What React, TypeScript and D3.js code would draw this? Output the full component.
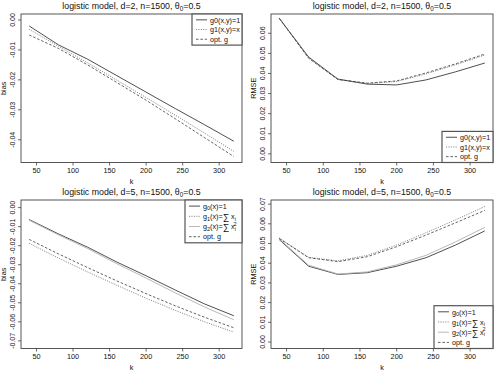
import * as d3 from "d3";
import { useEffect, useRef } from "react";

const kValues = [40, 80, 120, 160, 200, 240, 280, 320];
const xTicks = [50, 100, 150, 200, 250, 300];

// d=2, bias
const bias2G0 = [-0.002, -0.0083, -0.0131, -0.0186, -0.0241, -0.0296, -0.035, -0.0405];
const bias2G1 = [-0.0031, -0.0088, -0.0143, -0.0201, -0.0259, -0.0318, -0.0378, -0.0439];
const bias2Opt = [-0.005, -0.0095, -0.015, -0.0209, -0.0268, -0.033, -0.0393, -0.0456];

// d=2, RMSE
const rmse2G0 = [0.0675, 0.0482, 0.0372, 0.0347, 0.0343, 0.0368, 0.0408, 0.0452];
const rmse2G1 = [0.0675, 0.0478, 0.037, 0.035, 0.036, 0.0398, 0.0443, 0.0492];
const rmse2Opt = [0.0675, 0.0476, 0.037, 0.0352, 0.0363, 0.0403, 0.0448, 0.0497];

// d=5, bias
const bias5G0 = [-0.0063, -0.0138, -0.0208, -0.0286, -0.0358, -0.0433, -0.0506, -0.0568];
const bias5G1 = [-0.0188, -0.0265, -0.0338, -0.0408, -0.0476, -0.054, -0.06, -0.0654];
const bias5G2 = [-0.0066, -0.0143, -0.0215, -0.0295, -0.037, -0.0448, -0.0522, -0.0589];
const bias5Opt = [-0.0167, -0.0243, -0.0315, -0.0385, -0.0452, -0.0516, -0.0576, -0.0631];

// d=5, RMSE
const rmse5G0 = [0.052, 0.0385, 0.0343, 0.0352, 0.0385, 0.0428, 0.0492, 0.0564];
const rmse5G1 = [0.0528, 0.043, 0.0412, 0.044, 0.0492, 0.0555, 0.062, 0.0688];
const rmse5G2 = [0.0524, 0.039, 0.0345, 0.0356, 0.0392, 0.044, 0.0508, 0.0582];
const rmse5Opt = [0.0526, 0.0428, 0.0408, 0.0433, 0.0484, 0.0543, 0.0605, 0.0668];

const biasTicks2 = [0, -0.01, -0.02, -0.03, -0.04];
const rmseTicks2 = [0, 0.01, 0.02, 0.03, 0.04, 0.05, 0.06];
const biasTicks5 = [0, -0.01, -0.02, -0.03, -0.04, -0.05, -0.06, -0.07];
const rmseTicks5 = [0, 0.01, 0.02, 0.03, 0.04, 0.05, 0.06, 0.07];

const FONT = "Liberation Sans, Arial, Helvetica, sans-serif";

const styles = {
  g0: { color: "#222", dash: null, width: 0.8 },
  g1: { color: "#777", dash: "1.1,1.3", width: 0.9 },
  g2: { color: "#b0b0b0", dash: null, width: 0.9 },
  opt: { color: "#333", dash: "2.6,1.8", width: 0.75 },
};

const App = () => {
  const ref = useRef(null);

  useEffect(() => {
    const svg = d3.select(ref.current);
    svg.selectAll("*").remove();

    const panels = [
      {
        x0: 21, x1: 242, y0: 14, y1: 162.5, d: 2, ylab: "bias",
        domain: [-0.0476, 0.002], ticks: biasTicks2,
        series: [
          { key: "g0", vals: bias2G0 },
          { key: "g1", vals: bias2G1 },
          { key: "opt", vals: bias2Opt },
        ],
        legend: { corner: "top", w: 50, labels: ["g0(x,y)=1", "g1(x,y)=x", "opt. g"], keys: ["g0", "g1", "opt"] },
      },
      {
        x0: 271, x1: 493, y0: 14, y1: 162.5, d: 2, ylab: "RMSE",
        domain: [-0.0043, 0.0696], ticks: rmseTicks2,
        series: [
          { key: "g0", vals: rmse2G0 },
          { key: "g1", vals: rmse2G1 },
          { key: "opt", vals: rmse2Opt },
        ],
        legend: { corner: "bottom", w: 51, labels: ["g0(x,y)=1", "g1(x,y)=x", "opt. g"], keys: ["g0", "g1", "opt"] },
      },
      {
        x0: 21, x1: 242, y0: 200, y1: 348.5, d: 5, ylab: "bias",
        domain: [-0.074, 0.004], ticks: biasTicks5,
        series: [
          { key: "g0", vals: bias5G0 },
          { key: "g1", vals: bias5G1 },
          { key: "g2", vals: bias5G2 },
          { key: "opt", vals: bias5Opt },
        ],
        legend: { corner: "top", w: 57, labels: null, keys: ["g0", "g1", "g2", "opt"] },
      },
      {
        x0: 271, x1: 493, y0: 200, y1: 348.5, d: 5, ylab: "RMSE",
        domain: [-0.0033, 0.0721], ticks: rmseTicks5,
        series: [
          { key: "g0", vals: rmse5G0 },
          { key: "g1", vals: rmse5G1 },
          { key: "g2", vals: rmse5G2 },
          { key: "opt", vals: rmse5Opt },
        ],
        legend: { corner: "bottom", w: 59, labels: null, keys: ["g0", "g1", "g2", "opt"] },
      },
    ];

    panels.forEach((p) => {
      const g = svg.append("g");
      const x = d3.scaleLinear().domain([28.8, 331.2]).range([p.x0, p.x1]);
      const y = d3.scaleLinear().domain(p.domain).range([p.y1, p.y0]);

      // title
      const title = g
        .append("text")
        .attr("x", (p.x0 + p.x1) / 2)
        .attr("y", p.y0 - 5)
        .attr("text-anchor", "middle")
        .attr("font-size", 8.8)
        .attr("font-family", FONT)
        .attr("fill", "#111");
      title.append("tspan").text(`logistic model, d=${p.d}, n=1500, θ`);
      title.append("tspan").attr("font-size", 6.3).attr("dy", 2).text("0");
      title.append("tspan").attr("dy", -2).text("=0.5");

      // lines
      const line = d3
        .line()
        .x((d) => x(d[0]))
        .y((d) => y(d[1]));
      p.series.forEach((s) => {
        const st = styles[s.key];
        g.append("path")
          .datum(kValues.map((k, i) => [k, s.vals[i]]))
          .attr("d", line)
          .attr("fill", "none")
          .attr("stroke", st.color)
          .attr("stroke-width", st.width)
          .attr("stroke-dasharray", st.dash);
      });

      // box
      g.append("rect")
        .attr("x", p.x0)
        .attr("y", p.y0)
        .attr("width", p.x1 - p.x0)
        .attr("height", p.y1 - p.y0)
        .attr("fill", "none")
        .attr("stroke", "#444")
        .attr("stroke-width", 0.9);

      // x axis
      xTicks.forEach((t) => {
        g.append("line")
          .attr("x1", x(t)).attr("x2", x(t))
          .attr("y1", p.y1).attr("y2", p.y1 + 3)
          .attr("stroke", "#444").attr("stroke-width", 0.8);
        g.append("text")
          .attr("x", x(t))
          .attr("y", p.y1 + 10.5)
          .attr("text-anchor", "middle")
          .attr("font-size", 7.3)
          .attr("font-family", FONT)
          .attr("fill", "#111")
          .text(t);
      });
      g.append("text")
        .attr("x", (p.x0 + p.x1) / 2)
        .attr("y", p.y1 + 21)
        .attr("text-anchor", "middle")
        .attr("font-size", 7.3)
        .attr("font-family", FONT)
        .attr("fill", "#111")
        .text("k");

      // y axis
      p.ticks.forEach((t) => {
        g.append("line")
          .attr("x1", p.x0 - 3).attr("x2", p.x0)
          .attr("y1", y(t)).attr("y2", y(t))
          .attr("stroke", "#444").attr("stroke-width", 0.8);
        g.append("text")
          .attr("transform", `translate(${p.x0 - 6},${y(t)}) rotate(-90)`)
          .attr("text-anchor", "middle")
          .attr("font-size", 7)
          .attr("font-family", FONT)
          .attr("fill", "#111")
          .text(d3.format(".2f")(t).replace("\u2212", "-"));
      });
      g.append("text")
        .attr("transform", `translate(${p.x0 - 15},${(p.y0 + p.y1) / 2}) rotate(-90)`)
        .attr("text-anchor", "middle")
        .attr("font-size", 7.3)
        .attr("font-family", FONT)
        .attr("fill", "#111")
        .text(p.ylab);

      // legend
      const n = p.legend.keys.length;
      const rowH = n === 3 ? 9.7 : 10.2;
      const lh = rowH * n + 2;
      const lx = p.x1 - p.legend.w;
      const ly = p.legend.corner === "top" ? p.y0 : p.y1 - lh;
      g.append("rect")
        .attr("x", lx)
        .attr("y", ly)
        .attr("width", p.legend.w)
        .attr("height", lh)
        .attr("fill", "white")
        .attr("stroke", "#555")
        .attr("stroke-width", 1.2);
      p.legend.keys.forEach((key, i) => {
        const st = styles[key];
        const cy = ly + 1 + rowH * (i + 0.5);
        g.append("line")
          .attr("x1", lx + 4).attr("x2", lx + 15)
          .attr("y1", cy).attr("y2", cy)
          .attr("stroke", st.color)
          .attr("stroke-width", st.width)
          .attr("stroke-dasharray", st.dash);
        const txt = g
          .append("text")
          .attr("x", lx + 18)
          .attr("y", cy + 2.7)
          .attr("font-size", 7.2)
          .attr("font-family", FONT)
          .attr("fill", "#111");
        if (p.legend.labels) {
          txt.text(p.legend.labels[i]);
        } else if (key === "opt") {
          txt.text("opt. g");
        } else {
          const sub = key === "g0" ? "0" : key === "g1" ? "1" : "2";
          txt.append("tspan").text("g");
          txt.append("tspan").attr("font-size", 5.5).attr("dy", 1.5).text(sub);
          txt.append("tspan").attr("dy", -1.5).text(key === "g0" ? "(x)=1" : "(x)=");
          if (key !== "g0") {
            txt.append("tspan").attr("font-size", 9).attr("dy", 0.8).text("\u2211");
            txt.append("tspan").attr("dy", -0.8).text(" x");
            txt.append("tspan").attr("font-size", 5.5).attr("dy", 1.5).text("i");
            if (key === "g2") {
              txt.append("tspan").attr("font-size", 5.5).attr("dx", -2.5).attr("dy", -5).text("2");
            }
          }
        }
      });
    });
  }, []);

  return <svg ref={ref} width={494} height={372} style={{ position: "absolute", left: 0, top: 0 }}></svg>;
};

export default App;
